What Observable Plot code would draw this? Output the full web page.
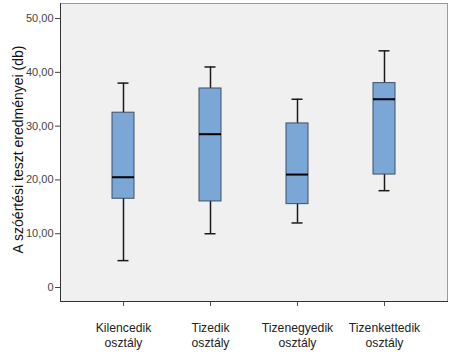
<!DOCTYPE html>
<html>
<head>
<meta charset="utf-8">
<script src="https://cdn.jsdelivr.net/npm/d3@7"></script>
<script src="https://cdn.jsdelivr.net/npm/@observablehq/plot@0.6"></script>
<style>
  html, body { margin: 0; padding: 0; background: #fff; }
  #chart { width: 450px; height: 360px; }
</style>
</head>
<body>
<div id="chart"></div>
<script>
const categories = ["Kilencedik osztály", "Tizedik osztály", "Tizenegyedik osztály", "Tizenkettedik osztály"];
const mins    = [5, 10, 12, 18];
const q1s     = [16.5, 16, 15.5, 21];
const medians = [20.5, 28.5, 21, 35];
const q3s     = [32.5, 37, 30.5, 38];
const maxs    = [38, 41, 35, 44];
const yTicks  = [0, 10, 20, 30, 40, 50];
const yLabel  = "A szóértési teszt eredményei (db)";

const data = categories.map((c, i) => ({
  cat: c, min: mins[i], q1: q1s[i], med: medians[i], q3: q3s[i], max: maxs[i]
}));

const chart = Plot.plot({
  width: 450,
  height: 360,
  marginLeft: 60,
  marginRight: 3,
  marginTop: 3,
  marginBottom: 59,
  style: { fontFamily: "Liberation Sans, Arial, sans-serif", background: "#fff" },
  x: {
    type: "band",
    domain: categories,
    paddingInner: 0.746,
    paddingOuter: 0.594,
    label: null
  },
  y: {
    domain: [-2.6, 52.8],
    label: null
  },
  marks: [
    Plot.frame({ fill: "#f0f0f0", stroke: "#9a9a9a" }),
    Plot.axisY({
      ticks: yTicks,
      tickFormat: d => d === 0 ? "0" : d.toFixed(2).replace(".", ","),
      tickSize: 5,
      tickPadding: 2,
      fontSize: 11,
      color: "#444",
      stroke: "#444",
      label: null
    }),
    Plot.text([yLabel], {
      frameAnchor: "left",
      textAnchor: "middle",
      rotate: -90,
      dx: -42,
      dy: -3,
      fontSize: 14,
      fill: "#111",
      text: d => d
    }),
    Plot.axisX({
      tickSize: 5,
      tickPadding: 15,
      fontSize: 12.2,
      lineHeight: 1.2,
      color: "#222",
      stroke: "#555",
      tickFormat: d => d.replace(" ", "\n"),
      label: null
    }),
    Plot.ruleX(data, { x: "cat", y1: "min", y2: "max", stroke: "#1a1a1a", strokeWidth: 1.5 }),
    Plot.tickY(data, { x: "cat", y: "max", stroke: "#1a1a1a", strokeWidth: 1.5, insetLeft: 5.5, insetRight: 5.5 }),
    Plot.tickY(data, { x: "cat", y: "min", stroke: "#1a1a1a", strokeWidth: 1.5, insetLeft: 5.5, insetRight: 5.5 }),
    Plot.barY(data, { x: "cat", y1: "q1", y2: "q3", fill: "#7ba7d7", stroke: "#3f4f66", strokeWidth: 1 }),
    Plot.tickY(data, { x: "cat", y: "med", stroke: "#000", strokeWidth: 2 }),
    Plot.frame({ anchor: "left", stroke: "#333" }),
    Plot.frame({ anchor: "bottom", stroke: "#333" })
  ]
});
document.getElementById("chart").appendChild(chart);
</script>
</body>
</html>
